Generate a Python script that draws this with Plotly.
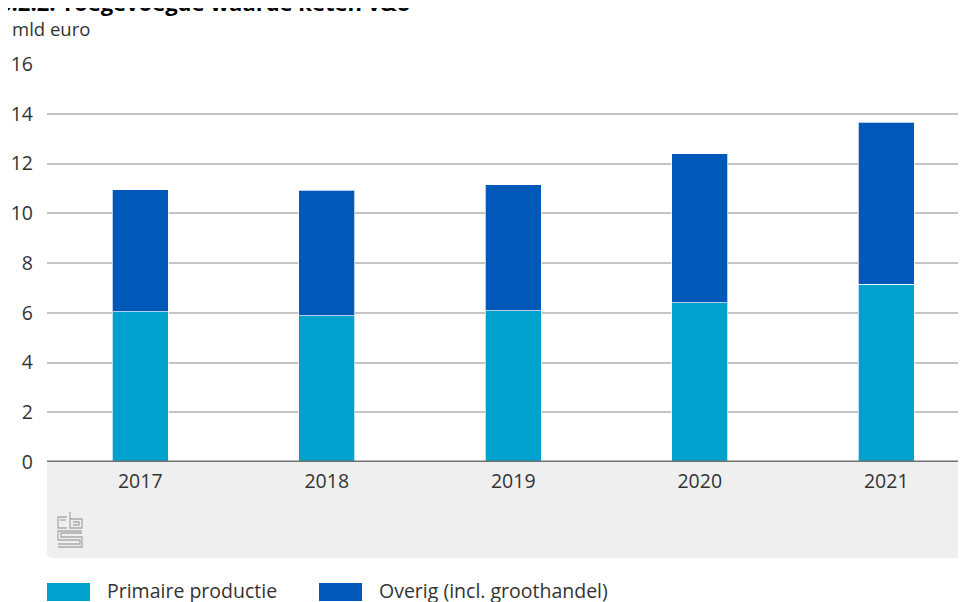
import plotly.graph_objects as go

years = ["2017", "2018", "2019", "2020", "2021"]
series_names = ["Primaire productie", "Overig (incl. groothandel)"]
primaire = [6.05, 5.87, 6.08, 6.40, 7.14]
overig = [4.90, 5.05, 5.07, 6.00, 6.52]
y_ticks = [0, 2, 4, 6, 8, 10, 12, 14, 16]
colors = ["#00a1cd", "#0058b8"]

FONT = "Open Sans"
OFF = 8  # page body margin
W, H = 966 - OFF, 602 - OFF
L, R, T = 47 - OFF, 0, 64 - OFF
B = H - (462 - OFF)
pw, ph = W - L - R, H - T - B

def px(x):
    return (x - OFF - L) / pw

def py(y):
    return (H - B - (y - OFF)) / ph

fig = go.Figure()
for name, vals, c in zip(series_names, [primaire, overig], colors):
    fig.add_trace(go.Bar(
        x=years, y=vals, name=name, width=0.3,
        marker=dict(color=c, line=dict(color="rgba(255,255,255,0.7)", width=1)),
        showlegend=False,
    ))

shapes = []
# grey footer area
shapes.append(dict(type="path", xref="paper", yref="paper", layer="below",
                   path=f"M {px(47)} {py(462)} L {px(966)} {py(462)} L {px(966)} {py(558)} "
                        f"L {px(53)} {py(558)} Q {px(47)} {py(558)} {px(47)} {py(552)} Z",
                   fillcolor="#efefef", line=dict(width=0)))
# zero line
shapes.append(dict(type="line", xref="paper", yref="y", x0=0, x1=1, y0=0, y1=0,
                   line=dict(color="#707070", width=3)))
# cbs logo (approximate)
lc = "#aaaaaa"
logo = [
    [(67, 517), (58, 517), (58, 528), (67, 528)],
    [(60, 520), (66, 520)],
    [(70, 512), (70, 528), (82, 528), (82, 519), (70, 519)],
    [(73, 522), (79, 522), (79, 525), (73, 525)],
    [(82, 531), (58, 531), (58, 540), (80, 540), (80, 544), (58, 544)],
    [(82, 533), (61, 533), (61, 537), (82, 537), (82, 547), (58, 547)],
]
for pts in logo:
    p = "M " + " L ".join(f"{px(a)} {py(b)}" for a, b in pts)
    shapes.append(dict(type="path", xref="paper", yref="paper", path=p,
                       line=dict(color=lc, width=1.3)))
# legend swatches
leg_x = [(47, 90), (319, 362)]
for (x0, x1), c in zip(leg_x, colors):
    shapes.append(dict(type="rect", xref="paper", yref="paper",
                       x0=px(x0), x1=px(x1), y0=py(583), y1=py(601),
                       fillcolor=c, line=dict(width=0)))

annotations = [
    dict(text="<b>6.2.2. Toegevoegde waarde keten v&o</b>", xref="paper", yref="paper",
         x=px(-3), y=py(19), xanchor="left", yanchor="bottom", showarrow=False,
         font=dict(family=FONT, size=22, color="#000000")),
    dict(text="mld euro", xref="paper", yref="paper", x=px(10), y=py(28),
         xanchor="left", yanchor="middle", showarrow=False,
         font=dict(family=FONT, size=18.5, color="#333333")),
]
for (x0, x1), name in zip(leg_x, series_names):
    annotations.append(dict(text=name, xref="paper", yref="paper", x=px(x1 + 15), y=py(590),
                            xanchor="left", yanchor="middle", showarrow=False,
                            font=dict(family=FONT, size=19.5, color="#333333")))

fig.update_layout(
    width=W, height=H, barmode="stack", bargap=0.7,
    margin=dict(l=L, r=R, t=T, b=B),
    paper_bgcolor="white", plot_bgcolor="white",
    font=dict(family=FONT, size=17, color="#333333"),
    xaxis=dict(range=[-0.5, -0.5 + pw / 186.5], showgrid=False, ticks="",
               showline=False, zeroline=False, ticklabelstandoff=5,
               tickfont=dict(size=19.5, color="#333333")),
    yaxis=dict(range=[0, 16], tickvals=y_ticks, showgrid=True, gridcolor="#c4c4c4",
               gridwidth=1.5, zeroline=False, showline=False, ticks="",
               ticklabelstandoff=13, tickfont=dict(size=19.5, color="#333333")),
    shapes=shapes, annotations=annotations,
)
fig.write_html("out.html")
